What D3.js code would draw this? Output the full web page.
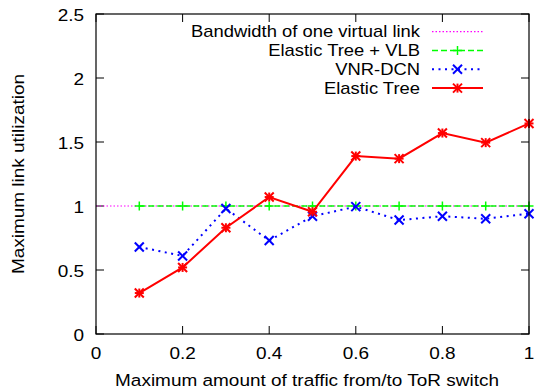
<!DOCTYPE html>
<html><head><meta charset="utf-8">
<script src="https://cdn.jsdelivr.net/npm/d3@7/dist/d3.min.js"></script>
<style>body{margin:0;background:#fff}svg{display:block}text{font-family:"Liberation Sans",Arial,sans-serif}</style>
</head><body><svg id="c" width="536" height="391"></svg>
<script>
const xs = [0.1,0.2,0.3,0.4,0.5,0.6,0.7,0.8,0.9,1.0];
const elasticTree = [0.32,0.52,0.83,1.07,0.955,1.39,1.37,1.57,1.495,1.645];
const vnrDcn = [0.68,0.61,0.98,0.73,0.92,0.995,0.89,0.92,0.90,0.94];
const elasticVlb = [1,1,1,1,1,1,1,1,1,1];
const bandwidthX = [0,1];
const bandwidthY = [1,1];
const xTicks = [0,0.2,0.4,0.6,0.8,1];
const yTicks = [0,0.5,1,1.5,2,2.5];
const xTickLabels = ["0","0.2","0.4","0.6","0.8","1"];
const yTickLabels = ["0","0.5","1","1.5","2","2.5"];

const svg = d3.select("#c");
const L=96,R=529,T=14,B=334;
const x = d3.scaleLinear().domain([0,1]).range([L,R]);
const y = d3.scaleLinear().domain([0,2.5]).range([B,T]);
const fs = 16.5, tl = 8, sx = 1.15;

function txt(px,py,s,anchor,rot,size){
  return svg.append("text")
    .attr("transform",`translate(${px},${py})${rot?" rotate(-90)":""} scale(${sx},1)`)
    .attr("text-anchor",anchor).attr("font-size",size||fs).attr("fill","#000").text(s);
}

// ticks
const g = svg.append("g");
xTicks.forEach((t,i)=>{
  g.append("line").attr("x1",x(t)).attr("x2",x(t)).attr("y1",B).attr("y2",B-tl).attr("stroke","#000");
  g.append("line").attr("x1",x(t)).attr("x2",x(t)).attr("y1",T).attr("y2",T+tl).attr("stroke","#000");
  txt(x(t),359,xTickLabels[i],"middle");
});
yTicks.forEach((t,i)=>{
  g.append("line").attr("x1",L).attr("x2",L+tl).attr("y1",y(t)).attr("y2",y(t)).attr("stroke","#000");
  g.append("line").attr("x1",R).attr("x2",R-tl).attr("y1",y(t)).attr("y2",y(t)).attr("stroke","#000");
  txt(84,y(t)+6.5,yTickLabels[i],"end");
});
txt(307,386,"Maximum amount of traffic from/to ToR switch","middle");
txt(24,174,"Maximum link utilization","middle",true);

const line = d3.line().x(d=>x(d[0])).y(d=>y(d[1]));
const series = [
  {name:"Bandwidth of one virtual link", xv:bandwidthX, yv:bandwidthY, color:"#ff00ff", dash:"1.5,2", w:1.2, marker:null},
  {name:"Elastic Tree + VLB", xv:xs, yv:elasticVlb, color:"#00ff00", dash:"6,3", w:1.5, marker:"plus"},
  {name:"VNR-DCN", xv:xs, yv:vnrDcn, color:"#0000ff", dash:"2,4.5", w:2, marker:"cross"},
  {name:"Elastic Tree", xv:xs, yv:elasticTree, color:"#ff0000", dash:null, w:2, marker:"star"}
];
const m = 4.5;
function drawMarker(sel,type,cx,cy,color){
  const segs=[];
  if(type==="plus"||type==="star"){segs.push([cx-m,cy,cx+m,cy],[cx,cy-m,cx,cy+m]);}
  if(type==="cross"||type==="star"){segs.push([cx-m,cy-m,cx+m,cy+m],[cx-m,cy+m,cx+m,cy-m]);}
  segs.forEach(s=>sel.append("line").attr("x1",s[0]).attr("y1",s[1]).attr("x2",s[2]).attr("y2",s[3]).attr("stroke",color).attr("stroke-width",type==="plus"?1.5:2));
}
series.forEach((s,i)=>{
  const data = s.xv.map((v,j)=>[v,s.yv[j]]);
  const p = svg.append("path").datum(data).attr("d",line).attr("fill","none").attr("stroke",s.color).attr("stroke-width",s.w);
  if(s.dash) p.attr("stroke-dasharray",s.dash);
  const mg = svg.append("g");
  if(s.marker) data.forEach(d=>drawMarker(mg,s.marker,x(d[0]),y(d[1]),s.color));
  // legend
  const ly = 31.7 + i*18.8;
  txt(420,ly+5.5,s.name,"end",false,16);
  const lp = svg.append("line").attr("x1",432).attr("x2",483).attr("y1",ly).attr("y2",ly).attr("stroke",s.color).attr("stroke-width",s.w);
  if(s.dash) lp.attr("stroke-dasharray",s.dash);
  if(s.marker) drawMarker(svg,s.marker,457.5,ly,s.color);
});
svg.append("rect").attr("x",L).attr("y",T).attr("width",R-L).attr("height",B-T).attr("fill","none").attr("stroke","#000").attr("stroke-width",1.2);
</script></body></html>
